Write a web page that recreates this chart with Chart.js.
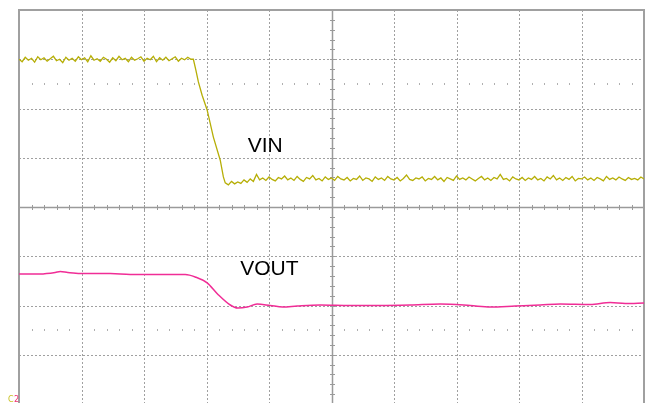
<!DOCTYPE html>
<html>
<head>
<meta charset="utf-8">
<script src="https://cdn.jsdelivr.net/npm/chart.js@4/dist/chart.umd.min.js"></script>
<style>
html,body{margin:0;padding:0;background:#fff;overflow:hidden;}
#wrap{position:absolute;left:0;top:0;width:645px;height:404px;}
</style>
</head>
<body>
<div id="wrap"><canvas id="c" width="645" height="404"></canvas></div>
<script>
// Time axis in divisions (0..10), vertical in divisions (-4..4)
const vinT = [0,0.05,0.1,0.15,0.2,0.25,0.3,0.35,0.4,0.45,0.5,0.55,0.6,0.65,0.7,0.75,0.8,0.85,0.9,0.95,
  1,1.05,1.1,1.15,1.2,1.25,1.3,1.35,1.4,1.45,1.5,1.55,1.6,1.65,1.7,1.75,1.8,1.85,1.9,1.95,
  2,2.05,2.1,2.15,2.2,2.25,2.3,2.35,2.4,2.45,2.5,2.55,2.6,2.65,2.7,2.75,
  2.79,2.83,2.87,2.93,3.01,3.11,3.22,3.27,
  3.3,3.35,3.4,3.45,3.5,3.55,3.6,3.65,3.7,3.75,3.8,3.85,3.9,3.95,
  4,4.05,4.1,4.15,4.2,4.25,4.3,4.35,4.4,4.45,4.5,4.55,4.6,4.65,4.7,4.75,4.8,4.85,4.9,4.95,
  5,5.05,5.1,5.15,5.2,5.25,5.3,5.35,5.4,5.45,5.5,5.55,5.6,5.65,5.7,5.75,5.8,5.85,5.9,5.95,
  6,6.05,6.1,6.15,6.2,6.25,6.3,6.35,6.4,6.45,6.5,6.55,6.6,6.65,6.7,6.75,6.8,6.85,6.9,6.95,
  7,7.05,7.1,7.15,7.2,7.25,7.3,7.35,7.4,7.45,7.5,7.55,7.6,7.65,7.7,7.75,7.8,7.85,7.9,7.95,
  8,8.05,8.1,8.15,8.2,8.25,8.3,8.35,8.4,8.45,8.5,8.55,8.6,8.65,8.7,8.75,8.8,8.85,8.9,8.95,
  9,9.05,9.1,9.15,9.2,9.25,9.3,9.35,9.4,9.45,9.5,9.55,9.6,9.65,9.7,9.75,9.8,9.85,9.9,9.95,10];
const vinV = [3.00,2.95,3.04,2.98,3.02,2.94,3.05,2.99,3.03,2.96,
  3.01,3.06,2.97,3.00,2.93,3.04,2.98,3.02,2.96,3.05,
  2.99,3.03,2.95,3.07,2.98,3.01,2.96,3.04,3.00,2.94,
  3.03,2.97,3.06,2.99,3.02,2.95,3.04,2.98,3.01,3.05,
  2.96,3.02,2.99,3.06,2.95,3.03,2.98,3.04,2.97,3.01,
  3.05,2.96,3.02,2.99,3.04,3.00,
  3.00,2.78,2.54,2.27,1.97,1.42,0.95,0.61,
  0.49,0.45,0.52,0.47,0.51,0.48,0.55,0.50,0.57,0.52,
  0.66,0.55,0.59,0.54,0.61,0.56,0.53,0.60,0.57,0.63,
  0.55,0.59,0.54,0.62,0.56,0.52,0.60,0.57,0.64,0.55,
  0.58,0.53,0.61,0.56,0.59,0.54,0.62,0.57,0.55,0.60,
  0.53,0.58,0.56,0.63,0.54,0.59,0.57,0.52,0.61,0.56,
  0.59,0.54,0.62,0.57,0.55,0.60,0.53,0.58,0.65,0.56,
  0.54,0.59,0.57,0.61,0.53,0.58,0.56,0.62,0.55,0.59,
  0.52,0.60,0.57,0.54,0.63,0.56,0.59,0.55,0.61,0.57,
  0.53,0.58,0.62,0.55,0.59,0.54,0.60,0.57,0.66,0.56,
  0.58,0.53,0.61,0.57,0.55,0.60,0.54,0.59,0.56,0.62,
  0.55,0.58,0.53,0.61,0.57,0.64,0.55,0.59,0.54,0.60,
  0.56,0.62,0.53,0.58,0.57,0.61,0.55,0.59,0.54,0.60,
  0.57,0.53,0.62,0.56,0.59,0.55,0.61,0.57,0.54,0.60,
  0.56,0.58,0.55,0.61,0.57];
const voutT = [0,0.34,0.58,0.66,0.78,0.98,1.46,1.78,2.26,2.66,2.82,3.01,3.18,3.38,3.50,3.65,3.81,4.02,4.22,4.45,4.82,5.30,5.78,6.26,6.74,7.22,7.54,7.94,8.34,8.66,9.14,9.46,9.70,10.0];
const voutV = [-1.36,-1.36,-1.33,-1.31,-1.33,-1.35,-1.35,-1.37,-1.37,-1.37,-1.42,-1.54,-1.77,-1.99,-2.05,-2.03,-1.97,-2.00,-2.03,-2.01,-1.99,-2.00,-2.00,-1.99,-1.97,-2.00,-2.03,-2.01,-1.99,-1.97,-1.98,-1.94,-1.96,-1.95];
const traceLabels = [{text:'VIN', t:3.66, v:1.12},{text:'VOUT', t:3.54, v:-1.38}];
const xGrid = [0,1,2,3,4,5,6,7,8,9,10];
const yGrid = [-4,-3,-2,-1,0,1,2,3,4];
const markerRows = [2.5,-2.5];

const toXY = (ts, vs) => ts.map((t,i)=>({x:t, y:vs[i]}));

const scopePlugin = {
  id:'scope',
  beforeDatasetsDraw(chart){
    const {ctx, chartArea:a, scales:{x,y}} = chart;
    ctx.save();
    ctx.strokeStyle = '#a0a0a0';
    ctx.lineWidth = 1;
    ctx.setLineDash([2,2]);
    xGrid.forEach(t=>{
      if(t===0||t===10||t===5) return;
      const px = Math.round(x.getPixelForValue(t))+0.5;
      ctx.beginPath(); ctx.moveTo(px,a.top); ctx.lineTo(px,a.bottom); ctx.stroke();
    });
    yGrid.forEach(v=>{
      if(v===4||v===-4||v===0) return;
      const py = Math.round(y.getPixelForValue(v))+0.5;
      ctx.beginPath(); ctx.moveTo(a.left,py); ctx.lineTo(a.right,py); ctx.stroke();
    });
    ctx.setLineDash([]);
    // marker dot rows
    ctx.fillStyle = '#b0b0b0';
    markerRows.forEach(v=>{
      const py = Math.round(y.getPixelForValue(v));
      for(let k=0;k<=50;k++){
        if(k%5===0) continue;
        const px = Math.round(x.getPixelForValue(k*0.2));
        ctx.fillRect(px,py-1,1,2);
      }
    });
    // center axes
    ctx.strokeStyle = '#9a9a9a';
    ctx.lineWidth = 1.5;
    const cx = Math.round(x.getPixelForValue(5))+0.5;
    const cy = Math.round(y.getPixelForValue(0))+0.5;
    ctx.beginPath(); ctx.moveTo(cx,a.top); ctx.lineTo(cx,a.bottom); ctx.stroke();
    ctx.beginPath(); ctx.moveTo(a.left,cy); ctx.lineTo(a.right,cy); ctx.stroke();
    ctx.lineWidth = 1;
    for(let k=1;k<50;k++){
      const px = Math.round(x.getPixelForValue(k*0.2))+0.5;
      ctx.beginPath(); ctx.moveTo(px,cy-2.5); ctx.lineTo(px,cy+2.5); ctx.stroke();
    }
    for(let k=-19;k<20;k++){
      const py = Math.round(y.getPixelForValue(k*0.2))+0.5;
      ctx.beginPath(); ctx.moveTo(cx-2.5,py); ctx.lineTo(cx+2.5,py); ctx.stroke();
    }
    // frame
    ctx.strokeStyle = '#a0a0a0';
    ctx.lineWidth = 2;
    ctx.beginPath();
    ctx.moveTo(a.left,a.bottom+2); ctx.lineTo(a.left,a.top); ctx.lineTo(a.right,a.top); ctx.lineTo(a.right,a.bottom+2);
    ctx.stroke();
    ctx.restore();
  },
  afterDatasetsDraw(chart){
    const {ctx, chartArea:a, scales:{x,y}} = chart;
    ctx.save();
    ctx.fillStyle = '#000';
    ctx.font = '21px "Liberation Sans", Arial, sans-serif';
    ctx.textBaseline = 'alphabetic';
    traceLabels.forEach(l=>{
      ctx.fillText(l.text, x.getPixelForValue(l.t), y.getPixelForValue(l.v));
    });
    ctx.font = '8px "DejaVu Sans", sans-serif';
    ctx.fillStyle = '#c8c020';
    ctx.fillText('C', a.left-11, 402);
    ctx.fillStyle = '#f03070';
    ctx.fillText('2', a.left-5, 402);
    ctx.restore();
  }
};

new Chart(document.getElementById('c'), {
  type:'line',
  data:{
    datasets:[
      {label:'VIN', data:toXY(vinT,vinV), borderColor:'rgb(182,174,6)', borderWidth:1.3, pointRadius:0, tension:0},
      {label:'VOUT', data:toXY(voutT,voutV), borderColor:'rgb(240,45,150)', borderWidth:1.5, pointRadius:0, cubicInterpolationMode:'monotone'}
    ]
  },
  options:{
    responsive:false,
    animation:false,
    layout:{padding:{left:19,top:10,right:1,bottom:0}},
    plugins:{legend:{display:false},tooltip:{enabled:false}},
    scales:{
      x:{type:'linear',min:0,max:10,ticks:{display:false},grid:{display:false,drawTicks:false},border:{display:false}},
      y:{type:'linear',min:-4,max:4,ticks:{display:false},grid:{display:false,drawTicks:false},border:{display:false}}
    }
  },
  plugins:[scopePlugin]
});
</script>
</body>
</html>
